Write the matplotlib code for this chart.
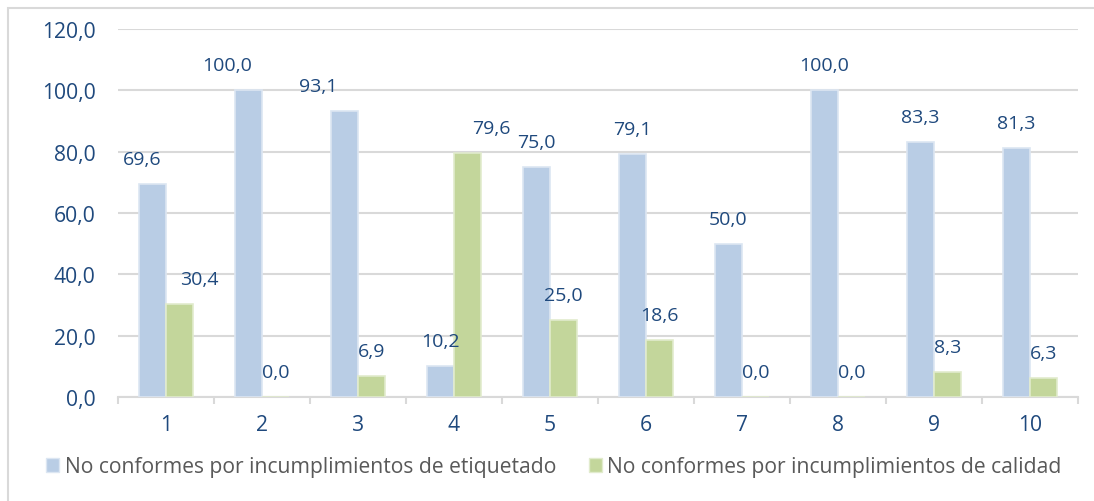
import numpy as np
import matplotlib
matplotlib.use("Agg")
import matplotlib.pyplot as plt
from matplotlib.patches import Rectangle, Patch

plt.rcParams['font.family'] = ['Open Sans', 'DejaVu Sans']

categories = ["1", "2", "3", "4", "5", "6", "7", "8", "9", "10"]
etiquetado = [69.6, 100.0, 93.1, 10.2, 75.0, 79.1, 50.0, 100.0, 83.3, 81.3]
calidad = [30.4, 0.0, 6.9, 79.6, 25.0, 18.6, 0.0, 0.0, 8.3, 6.3]
series_names = ["No conformes por incumplimientos de etiquetado",
                "No conformes por incumplimientos de calidad"]

# horizontal nudges of a few data labels (points), as placed in the original
nudge_etiq = [-7, -15, -19, 0, 0, 0, 0, 0, 0, 0]
nudge_cal = [14, 0, 0, 17, 0, 0, 0, 0, 0, 0]

blue, blue_edge = "#B9CDE5", "#DCE6F2"
green, green_edge = "#C3D69B", "#E1EBCD"
text_blue = "#1F497D"
grid_col = "#D9D9D9"

W, H = 1094, 502
fig = plt.figure(figsize=(W / 100, H / 100), dpi=100)
ax = fig.add_axes([118 / W, (H - 398) / H, 960 / W, 368 / H])

x = np.arange(len(categories))
bw = 0.286
b1 = ax.bar(x - bw / 2, etiquetado, bw, color=blue, edgecolor=blue_edge, linewidth=1.2, zorder=3)
b2 = ax.bar(x + bw / 2, calidad, bw, color=green, edgecolor=green_edge, linewidth=1.2, zorder=3)

for bars, vals, nud in ((b1, etiquetado, nudge_etiq), (b2, calidad, nudge_cal)):
    for rect, v, dx in zip(bars, vals, nud):
        ax.annotate(f"{v:.1f}".replace(".", ","),
                    (rect.get_x() + rect.get_width() / 2, v),
                    xytext=(dx, 18), textcoords="offset points",
                    ha="center", va="center", fontsize=14, color=text_blue, zorder=4)

ax.set_xlim(-0.5, len(categories) - 0.5)
ax.set_ylim(0, 120)
ax.set_yticks(np.arange(0, 121, 20))
ax.set_yticklabels([f"{v:.1f}".replace(".", ",") for v in np.arange(0, 121, 20)])
ax.set_xticks(x)
ax.set_xticklabels(categories)
ax.set_xticks(np.arange(-0.5, len(categories), 1), minor=True)

ax.yaxis.grid(True, color=grid_col, linewidth=1.5, zorder=0)
for s in ("top", "right", "left"):
    ax.spines[s].set_visible(False)
ax.spines["bottom"].set_color(grid_col)
ax.spines["bottom"].set_linewidth(1.5)
ax.tick_params(axis="y", length=0, pad=16, labelsize=15.2, labelcolor=text_blue)
ax.tick_params(axis="x", which="major", length=0, pad=12, labelsize=15.2, labelcolor=text_blue)
ax.tick_params(axis="x", which="minor", length=5, width=1.5, color=grid_col)

handles = [Patch(facecolor=blue, edgecolor=blue_edge), Patch(facecolor=green, edgecolor=green_edge)]
leg = fig.legend(handles, series_names, loc="center left", bbox_to_anchor=(46 / W, (H - 468) / H),
                 ncol=2, frameon=False, fontsize=15.2, handlelength=0.6, handleheight=0.6,
                 handletextpad=0.28, columnspacing=1.56, borderaxespad=0, borderpad=0)
for t in leg.get_texts():
    t.set_color("#595959")

fig.patches.append(Rectangle((8 / W, -0.1), 1.2, (H - 9) / H + 0.1, transform=fig.transFigure,
                             fill=False, edgecolor=grid_col, linewidth=1.5))

fig.savefig("out.png", dpi=100)
